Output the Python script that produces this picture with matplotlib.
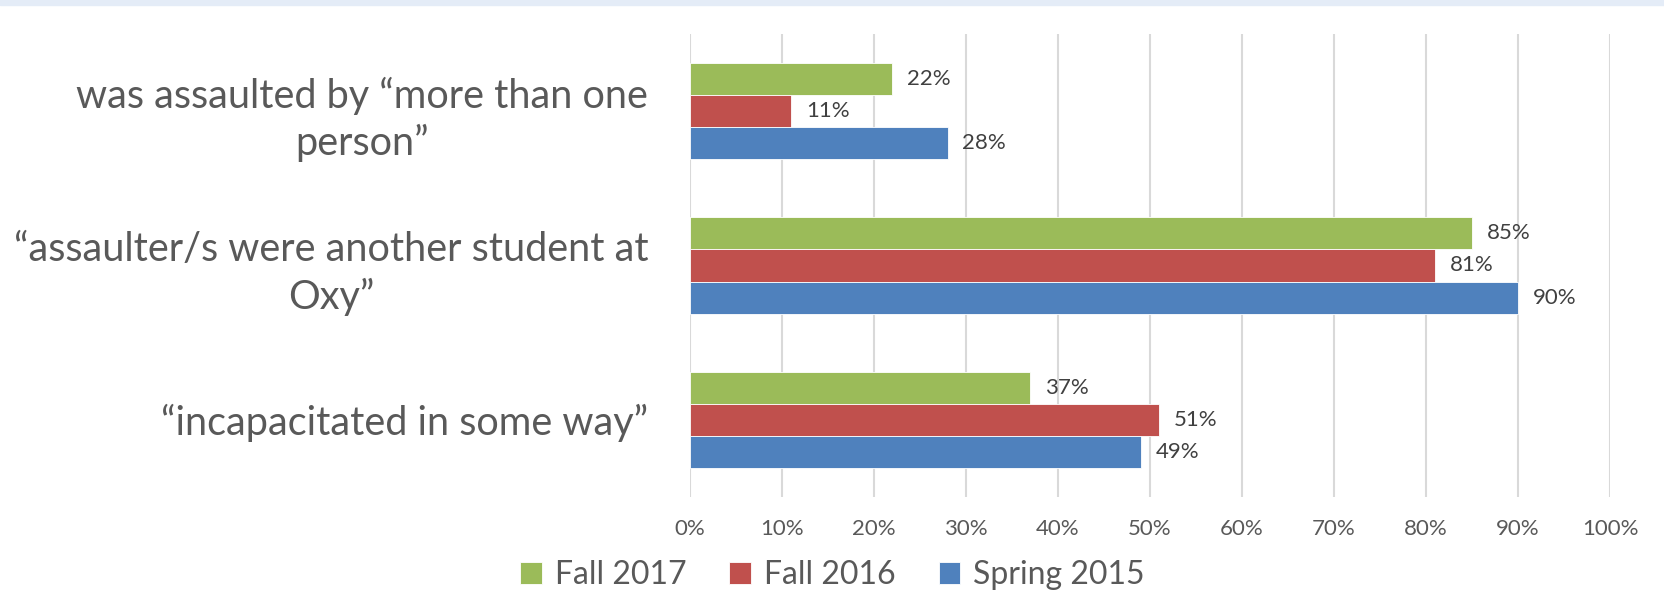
import numpy as np
import matplotlib
matplotlib.use('Agg')
from matplotlib import pyplot as plt
from matplotlib.patches import Rectangle

plt.rcParams['font.family'] = ['Lato', 'DejaVu Sans']

categories = ['was assaulted by \u201cmore than one\nperson\u201d',
              '\u201cassaulter/s were another student at\nOxy\u201d',
              '\u201cincapacitated in some way\u201d']
series_names = ['Fall 2017', 'Fall 2016', 'Spring 2015']
fall_2017 = [22, 85, 37]
fall_2016 = [11, 81, 51]
spring_2015 = [28, 90, 49]
colors = ['#9BBB59', '#C0504D', '#4F81BD']
xticks = list(range(0, 101, 10))

fig = plt.figure(figsize=(16.65, 6.16), dpi=100)
# light blue strip at the top
fig.patches.append(Rectangle((0, 1 - 5 / 616), 1, 5 / 616, transform=fig.transFigure,
                             color='#E4ECF7', zorder=0))
ax = fig.add_axes([690 / 1665, 1 - 497 / 616, 920 / 1665, 463 / 616])

y = np.arange(len(categories))
h = 0.208  # bar height (gap width ~60%)
all_series = [fall_2017, fall_2016, spring_2015]
for i, (vals, name, c) in enumerate(zip(all_series, series_names, colors)):
    pos = y + (i - 1) * h
    ax.barh(pos, vals, height=h, color=c, edgecolor='white', linewidth=0.6,
            label=name, zorder=3)
    for p, v in zip(pos, vals):
        ax.text(v + 1.6, p, f'{v}%', va='center', ha='left', fontsize=16,
                color='#404040', zorder=4)

ax.set_xlim(0, 100)
ax.set_ylim(len(categories) - 0.5, -0.5)
ax.set_xticks(xticks)
ax.set_xticklabels([f'{t}%' for t in xticks], fontsize=16, color='#595959')
ax.set_yticks(y)
ax.set_yticklabels(categories, fontsize=28.5, color='#595959', linespacing=1.3,
                   ha='right', multialignment='center')
ax.tick_params(axis='x', length=0, pad=16)
ax.tick_params(axis='y', length=0, pad=30)
ax.grid(axis='x', color='#D9D9D9', linewidth=1.5, zorder=0)
for s in ax.spines.values():
    s.set_visible(False)

leg = fig.legend(loc='center', bbox_to_anchor=(0.5, 1 - 575 / 616), ncol=3,
                 frameon=False, fontsize=23, handlelength=0.68, handleheight=0.68,
                 handletextpad=0.4, columnspacing=1.35, labelcolor='#595959')

fig.savefig('out.png', dpi=100)
